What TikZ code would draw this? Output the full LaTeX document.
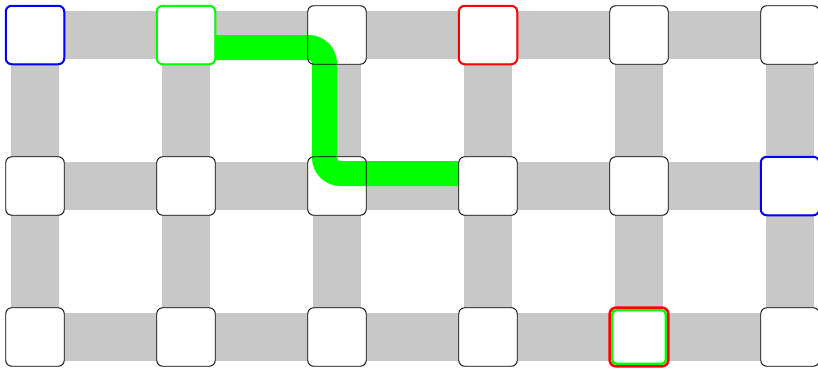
\documentclass[tikz,border=0pt]{standalone}
\usepackage{tikz}
\usetikzlibrary{calc}
\usepackage{xcolor}
\definecolor{lanegray}{RGB}{200, 200, 200}
\definecolor{routegreen}{RGB}{0, 255, 0}
\definecolor{portblue}{RGB}{0, 0, 255}
\definecolor{portred}{RGB}{255, 0, 0}

\begin{document}
\begin{tikzpicture}[x=1pt, y=-1pt,
  cell/.style={minimum size=58.5pt, rounded corners=6pt, inner sep=0pt},
  lane/.style={draw=lanegray, line width=48pt},
  route/.style={draw=routegreen, line width=25pt, rounded corners=16pt}]

  \useasboundingbox (0, 0) rectangle (818, 367);

  % Grid points
  \foreach \i in {0,...,5}
    \foreach \j in {0,1,2}
      \coordinate (p\i\j) at (35 + 151*\i, 35 + 151*\j);

  % Lanes
  \foreach \j in {0,1,2}
    \draw[lane] (p0\j) -- (p5\j);
  \foreach \i in {0,...,5}
    \draw[lane] (p\i0) -- (p\i2);

  % Cells (fill only)
  \foreach \i in {0,...,5}
    \foreach \j in {0,1,2}
      \node[cell, fill=white] (c\i\j) at (p\i\j) {};

  % Route
  \coordinate (r0) at ($(c10.east) + (0, 12.5)$);
  \coordinate (r1) at ($(c20.center) + (-12.5, 12.5)$);
  \coordinate (r2) at ($(c21.center) + (-12.5, -12.5)$);
  \coordinate (r3) at ($(c31.west) + (0, -12.5)$);
  \draw[route] (r0) -- (r1) -- (r2) -- (r3);

  % Cell borders
  \foreach \i in {0,...,5}
    \foreach \j in {0,1,2}
      \node[cell, draw=black, line width=0.9pt] at (c\i\j) {};

  % Marked cells
  \node[cell, draw=portblue, line width=2pt] at (c00) {};
  \node[cell, draw=portblue, line width=2pt] at (c51) {};
  \node[cell, draw=routegreen, line width=2pt] at (c10) {};
  \node[cell, draw=portred, line width=2pt] at (c30) {};
  \node[cell, draw=portred, line width=2.6pt] at (c42) {};
  \node[cell, draw=routegreen, line width=2.4pt, minimum size=53.5pt,
        rounded corners=4pt] at (c42) {};

\end{tikzpicture}
\end{document}
